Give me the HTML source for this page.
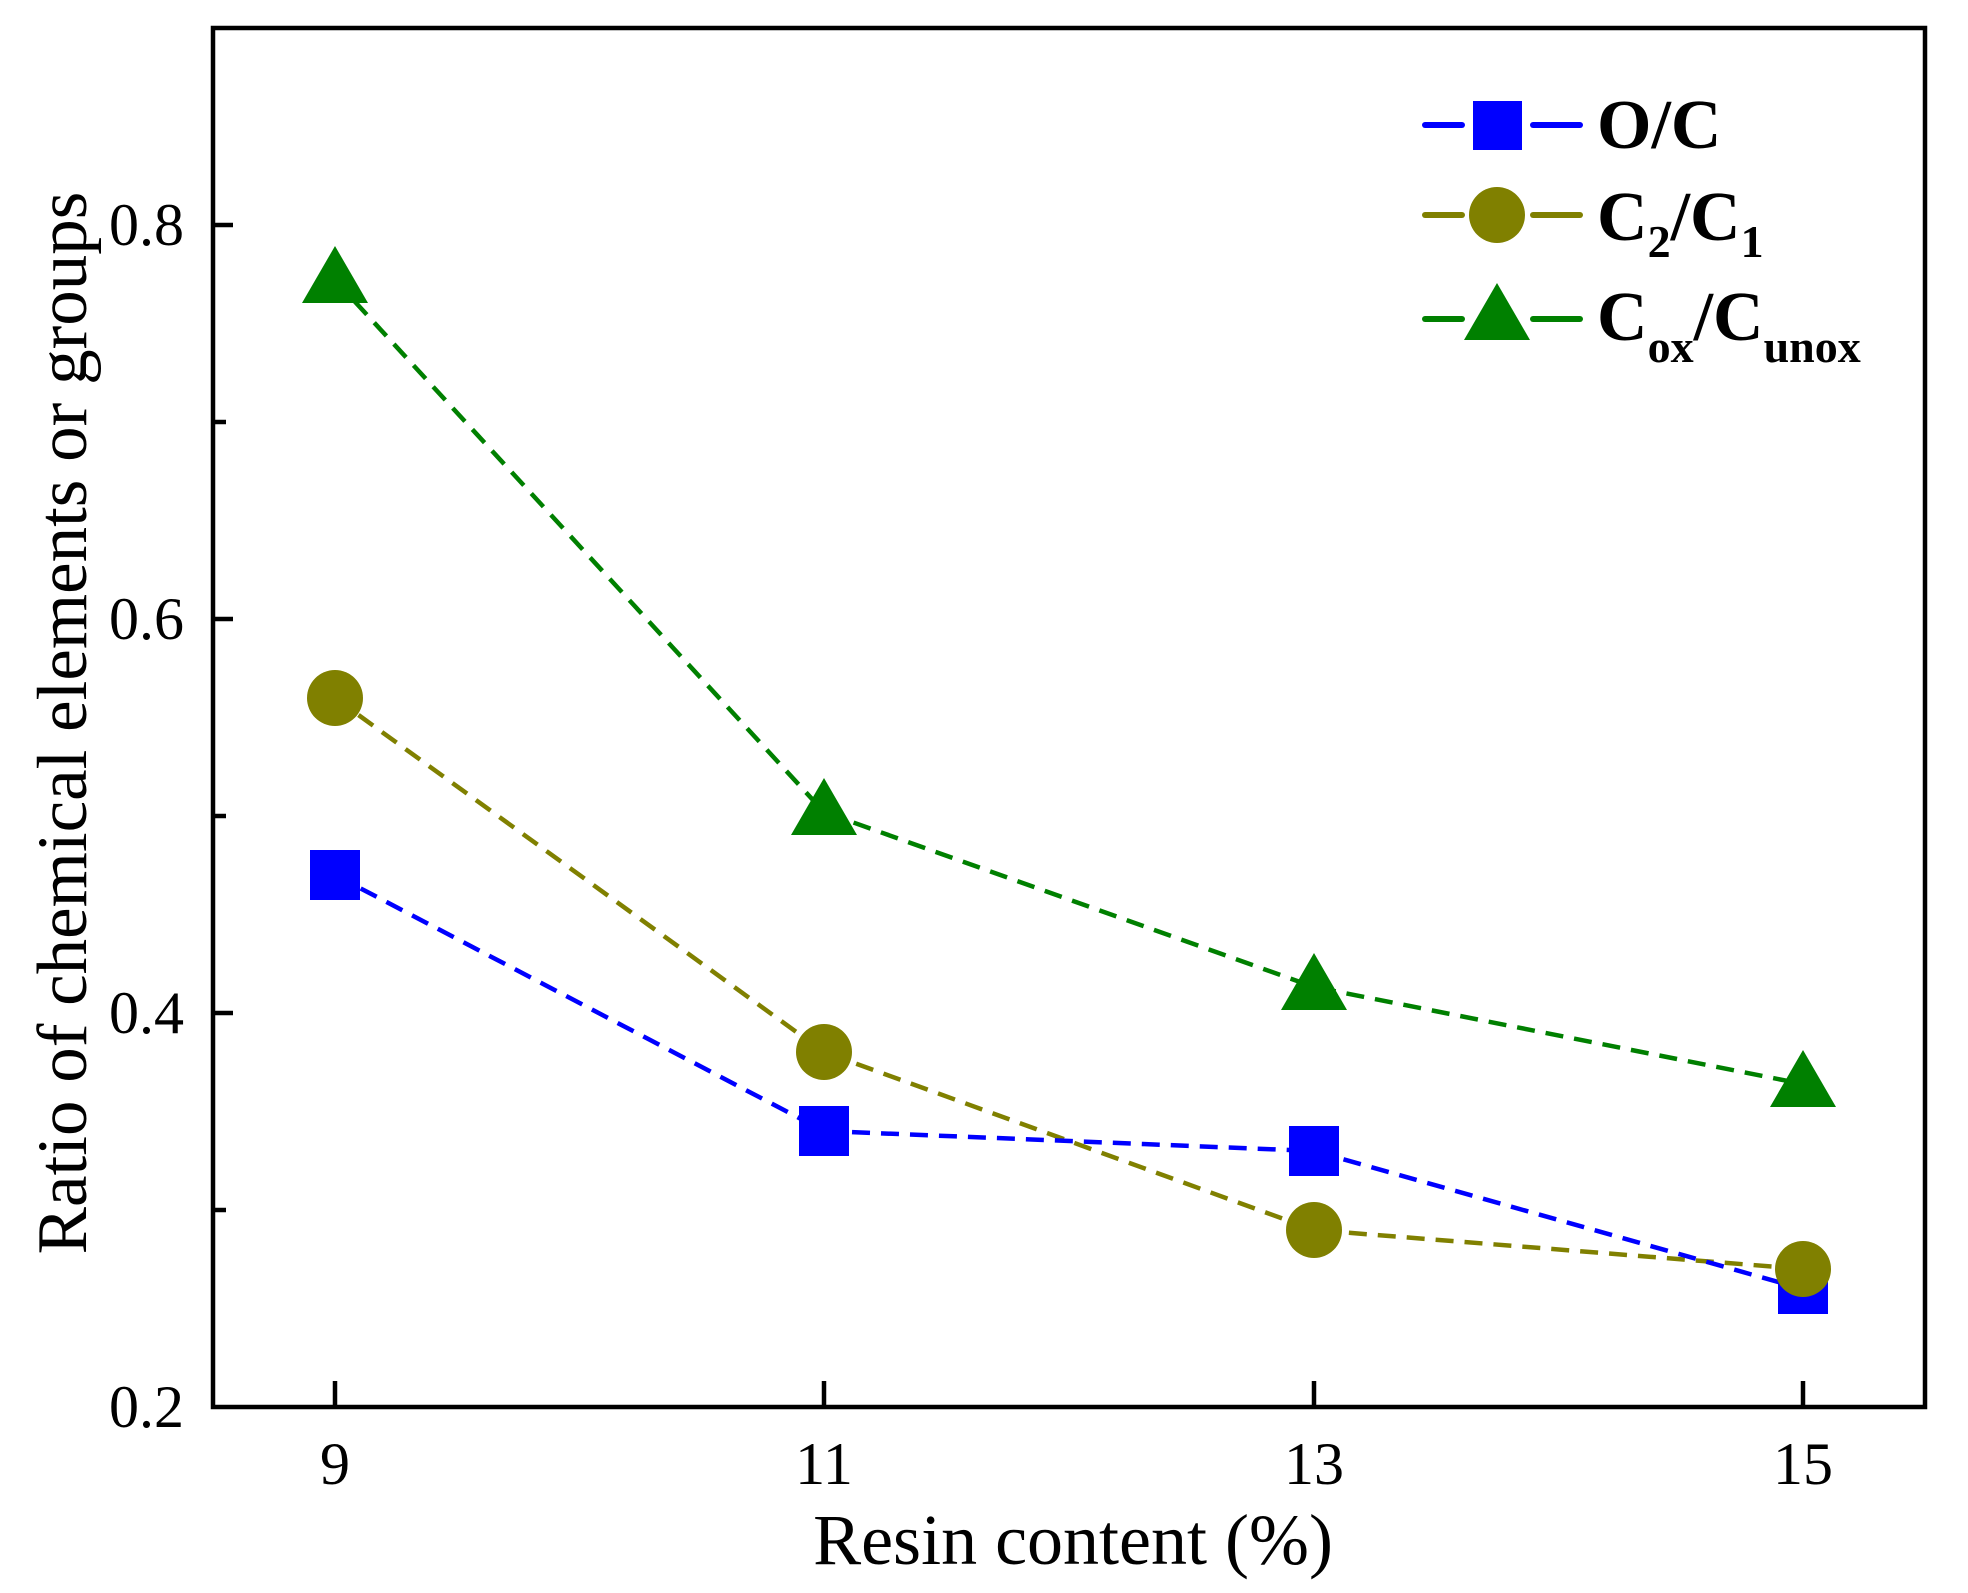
<!DOCTYPE html>
<html><head><style>html,body{margin:0;padding:0;background:#fff}svg{display:block}</style></head>
<body>
<svg width="1968" height="1593" viewBox="0 0 1968 1593" xmlns="http://www.w3.org/2000/svg" font-family="Liberation Serif, serif">
<rect x="213" y="28" width="1712" height="1379" fill="none" stroke="#000" stroke-width="4.5"/>
<g stroke="#000" stroke-width="4.5">
<line x1="213" y1="225" x2="233" y2="225"/><line x1="213" y1="619" x2="233" y2="619"/><line x1="213" y1="1013" x2="233" y2="1013"/>
<line x1="213" y1="422" x2="226" y2="422"/><line x1="213" y1="816" x2="226" y2="816"/><line x1="213" y1="1210" x2="226" y2="1210"/>
<line x1="335" y1="1407" x2="335" y2="1381"/><line x1="824" y1="1407" x2="824" y2="1381"/><line x1="1314" y1="1407" x2="1314" y2="1381"/><line x1="1803" y1="1407" x2="1803" y2="1381"/>
</g>
<g font-size="60" text-anchor="end">
<text x="184" y="245">0.8</text><text x="184" y="639">0.6</text><text x="184" y="1033">0.4</text><text x="184" y="1427">0.2</text>
</g>
<g font-size="60" text-anchor="middle">
<text x="335" y="1484">9</text><text x="824" y="1484">11</text><text x="1314" y="1484">13</text><text x="1803" y="1484">15</text>
</g>
<text x="1073" y="1564" font-size="72" text-anchor="middle">Resin content (%)</text>
<text transform="translate(86,723) rotate(-90)" font-size="71" text-anchor="middle">Ratio of chemical elements or groups</text>
<g fill="none" stroke-width="4.5" stroke-dasharray="18,11">
<polyline stroke="#008000" points="335,280 824,812 1314,987 1803,1084"/>
<polyline stroke="#808000" points="335,698 824,1052 1314,1230 1803,1269"/>
<polyline stroke="#0000ff" points="335,875 824,1131 1314,1151 1803,1289"/>
</g>
<g fill="#0000ff">
<rect x="310" y="850" width="50" height="50"/><rect x="799" y="1106" width="50" height="50"/><rect x="1289" y="1126" width="50" height="50"/><rect x="1778" y="1264" width="50" height="50"/>
</g>
<g fill="#808000">
<circle cx="335" cy="698" r="28"/><circle cx="824" cy="1052" r="28"/><circle cx="1314" cy="1230" r="28"/><circle cx="1803" cy="1269" r="28"/>
</g>
<g fill="#008000">
<polygon points="335,246 302,303 368,303"/><polygon points="824,778 791,835 857,835"/><polygon points="1314,953 1281,1010 1347,1010"/><polygon points="1803,1050 1770,1107 1836,1107"/>
</g>
<g stroke-width="6" stroke-linecap="round">
<line x1="1425" y1="125" x2="1462" y2="125" stroke="#0000ff"/><line x1="1533" y1="125" x2="1580" y2="125" stroke="#0000ff"/>
<line x1="1425" y1="215" x2="1462" y2="215" stroke="#808000"/><line x1="1533" y1="215" x2="1580" y2="215" stroke="#808000"/>
<line x1="1425" y1="319" x2="1462" y2="319" stroke="#008000"/><line x1="1533" y1="319" x2="1580" y2="319" stroke="#008000"/>
</g>
<rect x="1473" y="101" width="49" height="49" fill="#0000ff"/>
<circle cx="1497" cy="215" r="28" fill="#808000"/>
<polygon points="1497,283 1464,340 1530,340" fill="#008000"/>
<g font-size="70" font-weight="bold">
<text x="1597" y="148">O/C</text>
<text x="1597" y="240">C<tspan font-size="46" dy="17">2</tspan><tspan dy="-17">/C</tspan><tspan font-size="46" dy="17">1</tspan></text>
<text x="1597" y="340">C<tspan font-size="46" dy="22">ox</tspan><tspan dy="-22">/C</tspan><tspan font-size="46" dy="22">unox</tspan></text>
</g>
</svg>
</body></html>
